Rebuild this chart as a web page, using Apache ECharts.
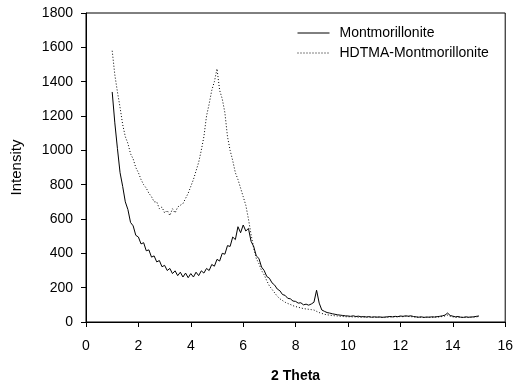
<!DOCTYPE html>
<html>
<head>
<meta charset="utf-8">
<script src="https://cdn.jsdelivr.net/npm/echarts@6/dist/echarts.min.js"></script>
<style>html,body{margin:0;padding:0;background:#fff}#c{width:516px;height:388px}</style>
</head>
<body>
<div id="c"></div>
<script>
const theta = [1.0,1.1,1.2,1.3,1.4,1.5,1.6,1.7,1.8,1.9,2.0,2.1,2.2,2.3,2.4,2.5,2.6,2.7,2.8,2.9,3.0,3.1,3.2,3.3,3.4,3.5,3.6,3.7,3.8,3.9,4.0,4.1,4.2,4.3,4.4,4.5,4.6,4.7,4.8,4.9,5.0,5.1,5.2,5.3,5.4,5.5,5.6,5.7,5.8,5.9,6.0,6.1,6.2,6.3,6.4,6.5,6.6,6.7,6.8,6.9,7.0,7.1,7.2,7.3,7.4,7.5,7.6,7.7,7.8,7.9,8.0,8.1,8.2,8.3,8.4,8.5,8.6,8.7,8.8,8.9,9.0,9.1,9.2,9.3,9.4,9.5,9.6,9.7,9.8,9.9,10.0,10.1,10.2,10.3,10.4,10.5,10.6,10.7,10.8,10.9,11.0,11.1,11.2,11.3,11.4,11.5,11.6,11.7,11.8,11.9,12.0,12.1,12.2,12.3,12.4,12.5,12.6,12.7,12.8,12.9,13.0,13.1,13.2,13.3,13.4,13.5,13.6,13.7,13.8,13.9,14.0,14.1,14.2,14.3,14.4,14.5,14.6,14.7,14.8,14.9,15.0];
const montmorillonite = [1340,1160,1010,870,790,700,655,580,560,505,495,455,462,415,420,378,385,350,358,322,330,300,312,282,298,270,290,262,285,258,282,262,290,270,298,285,312,300,335,325,365,355,400,395,445,440,495,480,555,520,565,530,545,470,440,385,370,320,300,265,255,228,215,192,182,160,155,138,135,122,120,110,112,100,104,98,105,115,185,110,70,62,55,52,48,45,42,40,38,36,35,33,36,32,34,30,32,29,31,28,30,28,30,27,29,30,32,30,33,31,35,33,36,34,36,32,30,28,30,27,29,28,30,29,31,33,36,40,52,38,34,30,32,28,27,30,28,29,30,33,35];
const hdtmaMontmorillonite = [1580,1440,1340,1250,1150,1080,1040,980,950,900,870,830,800,780,750,730,700,700,660,670,635,650,620,660,635,670,680,690,720,750,790,830,880,930,1000,1080,1200,1270,1350,1400,1475,1350,1300,1220,1080,1000,940,870,830,780,730,680,600,510,430,370,340,300,275,240,210,190,170,150,135,125,115,108,102,95,90,86,82,78,76,74,72,70,62,55,50,45,42,40,38,36,35,33,32,31,30,31,29,30,28,29,27,28,30,27,28,29,27,28,26,28,30,29,31,30,32,31,33,32,31,30,28,27,28,26,27,28,27,29,28,30,32,35,40,33,30,28,27,28,26,27,26,28,29,30,32];
const xTicks = {min: 0, max: 16, interval: 2};
const yTicks = {min: 0, max: 1800, interval: 200};

const pairs = (ys) => theta.map((t, i) => [t, ys[i]]);
const font = 'Liberation Sans, Arial, sans-serif';

const chart = echarts.init(document.getElementById('c'), null, {renderer: 'canvas'});
chart.setOption({
  animation: false,
  backgroundColor: '#fff',
  grid: {left: 86, right: 10, top: 13, bottom: 65, show: true, borderColor: '#000', borderWidth: 1},
  legend: {
    orient: 'vertical', left: 297, top: 26, padding: 0, itemWidth: 32, itemHeight: 14, itemGap: 6,
    itemStyle: {color: 'rgba(0,0,0,0)', borderWidth: 0, opacity: 0},
    lineStyle: {width: 1},
    textStyle: {fontFamily: font, fontSize: 14, color: '#000', padding: [0, 0, 0, 5]},
    data: ['Montmorillonite', 'HDTMA-Montmorillonite']
  },
  xAxis: {
    type: 'value', min: xTicks.min, max: xTicks.max, interval: xTicks.interval,
    name: '2 Theta', nameLocation: 'middle', nameGap: 47,
    nameTextStyle: {fontFamily: font, fontSize: 14, fontWeight: 'bold', color: '#000'},
    axisLine: {lineStyle: {color: '#000', width: 1}},
    axisTick: {show: true, inside: false, length: 5, lineStyle: {color: '#000'}},
    axisLabel: {fontFamily: font, fontSize: 14, color: '#000', margin: 17},
    splitLine: {show: false}
  },
  yAxis: {
    type: 'value', min: yTicks.min, max: yTicks.max, interval: yTicks.interval,
    name: 'Intensity', nameLocation: 'middle', nameGap: 62,
    nameTextStyle: {fontFamily: font, fontSize: 15, color: '#000'},
    axisLine: {show: true, lineStyle: {color: '#000', width: 1}},
    axisTick: {show: true, inside: false, length: 5, lineStyle: {color: '#000'}},
    axisLabel: {fontFamily: font, fontSize: 14, color: '#000', margin: 13, formatter: (v) => String(v)},
    splitLine: {show: false}
  },
  series: [
    {name: 'Montmorillonite', type: 'line', symbol: 'none', data: pairs(montmorillonite),
     lineStyle: {color: '#000', width: 1, type: 'solid'}, itemStyle: {color: '#000'}},
    {name: 'HDTMA-Montmorillonite', type: 'line', symbol: 'none', data: pairs(hdtmaMontmorillonite),
     lineStyle: {color: '#000', width: 1, type: [1, 2]}, itemStyle: {color: '#000'}}
  ]
});
</script>
</body>
</html>
